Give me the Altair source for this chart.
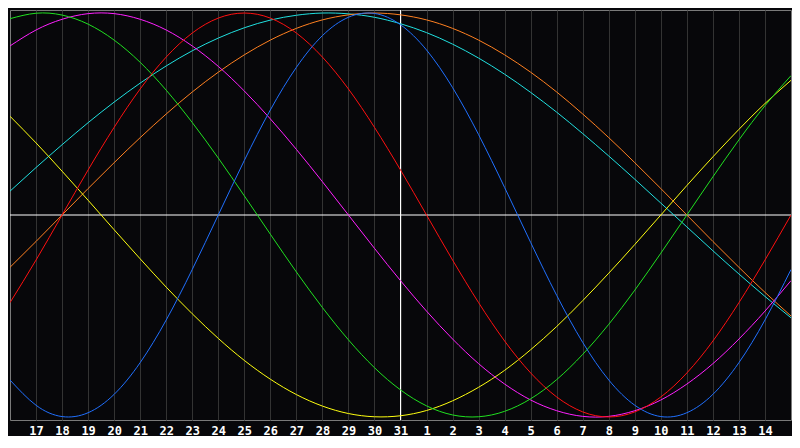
import altair as alt
import pandas as pd

# day-of-month label for each day slot t = 0..30
day_labels = [16, 17, 18, 19, 20, 21, 22, 23, 24, 25, 26, 27, 28, 29, 30, 31,
              1, 2, 3, 4, 5, 6, 7, 8, 9, 10, 11, 12, 13, 14, 15]
today_label = 31

# values read at each day slot (t = 0..30)
blue = [-0.817, -0.942, -0.998, -0.979, -0.888, -0.731, -0.520, -0.270, 0.0, 0.270,
        0.520, 0.731, 0.888, 0.979, 0.998, 0.942, 0.817, 0.631, 0.398, 0.136,
        -0.136, -0.398, -0.631, -0.817, -0.942, -0.998, -0.979, -0.888, -0.731, -0.520,
        -0.270]
red = [-0.434, -0.223, 0.0, 0.223, 0.434, 0.624, 0.782, 0.901, 0.975, 1.0,
       0.975, 0.901, 0.782, 0.624, 0.434, 0.223, 0.0, -0.223, -0.434, -0.624,
       -0.782, -0.901, -0.975, -1.0, -0.975, -0.901, -0.782, -0.624, -0.434, -0.223,
       0.0]
green = [0.972, 0.999, 0.990, 0.945, 0.866, 0.756, 0.618, 0.458, 0.282, 0.095,
         -0.095, -0.282, -0.458, -0.618, -0.756, -0.866, -0.945, -0.990, -0.999, -0.972,
         -0.910, -0.815, -0.690, -0.541, -0.372, -0.189, 0.0, 0.189, 0.372, 0.541,
         0.690]
magenta = [0.837, 0.916, 0.969, 0.997, 0.997, 0.969, 0.916, 0.837, 0.736, 0.614,
           0.476, 0.325, 0.165, 0.0, -0.165, -0.325, -0.476, -0.614, -0.736, -0.837,
           -0.916, -0.969, -0.997, -0.997, -0.969, -0.916, -0.837, -0.736, -0.614, -0.476,
           -0.325]
yellow = [0.489, 0.357, 0.217, 0.073, -0.073, -0.217, -0.357, -0.489, -0.611, -0.720,
          -0.813, -0.889, -0.946, -0.983, -0.999, -0.994, -0.968, -0.920, -0.853, -0.769,
          -0.667, -0.552, -0.424, -0.288, -0.146, 0.0, 0.146, 0.288, 0.424, 0.552,
          0.667]
orange = [-0.259, -0.131, 0.0, 0.131, 0.259, 0.383, 0.5, 0.609, 0.707, 0.793,
          0.866, 0.924, 0.966, 0.991, 1.0, 0.991, 0.966, 0.924, 0.866, 0.793,
          0.707, 0.609, 0.5, 0.383, 0.259, 0.131, 0.0, -0.131, -0.259, -0.383,
          -0.5]
cyan = [0.118, 0.235, 0.348, 0.457, 0.559, 0.653, 0.738, 0.813, 0.876, 0.927,
        0.965, 0.989, 1.0, 0.996, 0.979, 0.947, 0.903, 0.846, 0.777, 0.697,
        0.607, 0.509, 0.403, 0.292, 0.177, 0.059, -0.059, -0.177, -0.292, -0.403,
        -0.509]

series_names = ["cyan", "orange", "yellow", "magenta", "green", "red", "blue"]
series_values = [cyan, orange, yellow, magenta, green, red, blue]
series_colors = ["#20e0e0", "#ff8020", "#ffff10", "#ff20ff", "#20e020", "#ff1010", "#2070ff"]

rows = []
for name, vals in zip(series_names, series_values):
    for t, v in enumerate(vals):
        rows.append({"t": t, "value": v, "series": name})
df = pd.DataFrame(rows)

n = len(day_labels) - 1
today_idx = day_labels.index(today_label)
label_expr = "[" + ",".join("'%d'" % d for d in day_labels) + "][datum.value]"

x_scale = alt.Scale(domain=[0, n], nice=False, zero=False)
y_scale = alt.Scale(domain=[-1.015, 1.015], nice=False, zero=False)

x_axis = alt.Axis(
    values=list(range(1, n)),
    labelExpr=label_expr,
    grid=True,
    gridColor="#333333",
    gridWidth=1,
    ticks=False,
    domain=False,
    labelColor="#ffffff",
    labelFont="DejaVu Sans Mono",
    labelFontWeight="bold",
    labelFontSize=12,
    labelPadding=5,
    labelFlush=False,
    title=None,
)

vrule = alt.Chart(pd.DataFrame({"t": [today_idx]})).mark_rule(
    color="#ffffff", strokeWidth=1
).encode(x=alt.X("t:Q", scale=x_scale, axis=x_axis))

hrule = alt.Chart(pd.DataFrame({"value": [0.0]})).mark_rule(
    color="#ffffff", strokeWidth=1
).encode(y=alt.Y("value:Q", scale=y_scale, axis=None))

lines = alt.Chart(df).mark_line(interpolate="natural", strokeWidth=1, clip=True).encode(
    x=alt.X("t:Q", scale=x_scale, axis=x_axis),
    y=alt.Y("value:Q", scale=y_scale, axis=None),
    color=alt.Color("series:N", scale=alt.Scale(domain=series_names, range=series_colors), legend=None),
    detail="series:N",
)

chart = alt.layer(vrule, hrule, lines).properties(
    width=784,
    height=428,
    autosize=alt.AutoSizeParams(type="fit", contains="padding"),
    background="#07070a",
    padding={"left": 1, "top": 1, "right": 0, "bottom": 0},
).configure_view(stroke="#7a7a7a", strokeWidth=1, fill="#07070a")

chart.save("out.html", embed_options={"renderer": "svg", "actions": False})
